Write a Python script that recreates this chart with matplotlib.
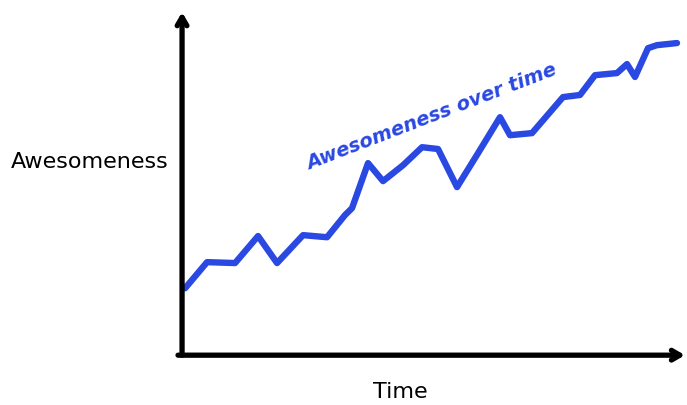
import matplotlib
matplotlib.use('Agg')
import matplotlib.pyplot as plt

# data (time 0-100, awesomeness arbitrary units)
time = [0.6, 5, 10.6, 15.2, 19, 24.2, 29, 32.6, 34, 37.2, 40.2, 44.2, 48, 51.2,
        55, 59.2, 63.6, 65.6, 70, 76.2, 79.6, 82.6, 87, 89, 90.6, 93.2, 95, 99]
awesomeness = [22.3, 31, 30.7, 39.7, 30.7, 40, 39.3, 46.7, 49, 64, 58, 63.3, 69.3, 68.7,
               56, 67.3, 79.3, 73.3, 74, 86, 86.7, 93.3, 94, 97, 92.7, 102.3, 103.3, 104]

title = "Awesomeness over time"
xlabel = "Time"
ylabel = "Awesomeness"

blue = '#2a48e2'

fig = plt.figure(figsize=(6.87, 4.05), dpi=100)
ax = fig.add_axes([0.265, 0.123, 0.735, 0.847])
ax.set_xlim(0, 101)
ax.set_ylim(0, 114.3)

ax.plot(time, awesomeness, color=blue, lw=4.6, solid_joinstyle='round',
        solid_capstyle='round')

# hand-drawn looking axes with arrows
for s in ax.spines.values():
    s.set_visible(False)
ax.set_xticks([])
ax.set_yticks([])
arrow = dict(arrowstyle='->,head_length=0.6,head_width=0.35', lw=3.8, color='black',
             shrinkA=0, shrinkB=0)
ax.annotate('', xy=(0, 1.0), xytext=(0, 0), xycoords='axes fraction', arrowprops=arrow)
ax.annotate('', xy=(0.996, 0), xytext=(-0.008, 0), xycoords='axes fraction', arrowprops=arrow)

ax.text(50, 79.5, title, color=blue, fontsize=14, rotation=21,
        ha='center', va='center', fontweight='bold', style='italic')

fig.text(0.582, 0.032, xlabel, fontsize=16, ha='center', va='center')
fig.text(0.131, 0.6, ylabel, fontsize=16, ha='center', va='center')

fig.savefig('out.png', dpi=100)
